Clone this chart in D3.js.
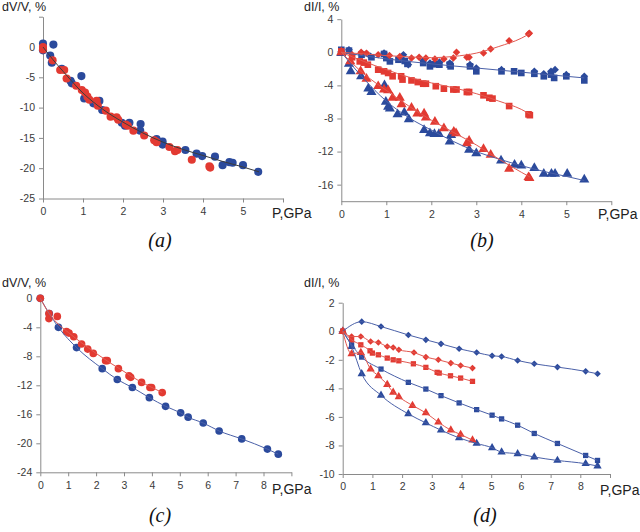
<!DOCTYPE html>
<html>
<head>
<meta charset="utf-8">
<script src="https://cdn.jsdelivr.net/npm/d3@7"></script>
<style>
  body { margin: 0; background: #fff; }
  svg { display: block; font-family: Arial, "Liberation Sans", sans-serif; }
</style>
</head>
<body>
<svg id="chart" width="640" height="532"></svg>
<script>
// ---- data: [P (GPa), value (%)] ----
const aBlue = [[0, 0.55], [0, -0.55], [0.26, 0.4], [0.18, -1.4], [0.22, -2.6], [0.47, -3.6], [0.69, -5.6], [0.72, -6.0],
  [0.96, -4.8], [1.03, -8.5], [1.26, -9.3], [1.41, -8.9], [1.48, -10.4], [1.97, -12.5], [2.05, -13.0], [2.16, -12.5],
  [2.43, -13.8], [2.44, -12.7], [2.84, -15.2], [2.99, -15.6], [2.99, -16.1], [3.56, -17.0], [3.84, -17.6], [3.98, -18.0],
  [4.3, -18.1], [4.49, -19.5], [4.66, -19.0], [4.74, -19.1], [5.0, -19.5], [5.38, -20.6]];
const aRed = [[0, 0], [0, -0.4], [0.24, -2.2], [0.43, -3.8], [0.53, -3.8], [0.59, -5.2], [0.83, -6.4], [0.97, -7.1],
  [1.05, -7.5], [1.11, -8.2], [1.16, -8.7], [1.34, -8.9], [1.37, -9.7], [1.57, -10.5], [1.69, -11.5], [1.84, -11.6],
  [1.88, -12.0], [2.07, -12.8], [2.12, -13.0], [2.26, -13.8], [2.53, -14.6], [2.78, -15.4], [2.84, -15.7], [3.16, -16.5],
  [3.3, -17.2], [3.36, -17.0], [3.72, -18.6], [4.16, -19.7], [4.18, -19.9]];
const aFit = [[0, 0], [0.25, -2.1], [0.5, -4.0], [1, -7.6], [1.5, -10.3], [2, -12.4], [2.5, -14.2], [3, -15.7],
  [3.5, -16.9], [4, -17.9], [4.5, -18.9], [5, -19.8], [5.4, -20.6]];

const bRedDiamond = [[0, 0.1], [0.24, -0.3], [0.44, 0], [0.56, -0.1], [0.82, -0.3], [1.07, -0.4], [1.3, -0.5], [1.56, -0.7],
  [1.73, -0.6], [1.88, -0.7], [2.08, -0.8], [2.28, -0.8], [2.49, -0.7], [2.56, 0], [2.79, -0.6], [2.84, -0.6],
  [3.16, -0.1], [3.32, 0.4], [3.73, 1.4], [4.16, 2.2], [4.18, 2.3]];
const bRedSquare = [[0, 0.1], [0.24, -0.6], [0.41, -1.1], [0.5, -1.25], [0.59, -1.5], [0.82, -2.1], [0.95, -2.3], [1.04, -2.5],
  [1.14, -2.9], [1.33, -2.9], [1.36, -3.3], [1.56, -3.4], [1.7, -3.6], [1.82, -3.8], [1.88, -3.8], [2.1, -4.1],
  [2.28, -4.4], [2.49, -4.5], [2.56, -4.5], [2.79, -4.8], [2.84, -4.8], [3.16, -5.2], [3.29, -5.5], [3.36, -5.6],
  [3.73, -6.5], [4.16, -7.5], [4.19, -7.6]];
const bRedTriangle = [[0, 0], [0.2, -1.1], [0.43, -2.3], [0.56, -3.2], [0.82, -4.1], [0.95, -4.5], [1.04, -4.6], [1.14, -5.5],
  [1.3, -5.5], [1.34, -6.3], [1.56, -6.7], [1.69, -7.4], [1.84, -7.4], [1.88, -7.9], [2.08, -8.4], [2.28, -9.2],
  [2.5, -9.6], [2.55, -9.8], [2.79, -11.0], [2.84, -10.7], [3.16, -11.7], [3.32, -12.4], [3.73, -14.1], [4.16, -15.1],
  [4.18, -15.2]];
const bBlueDiamond = [[0, 0.1], [0.17, 0.3], [0.45, -0.1], [0.65, -0.5], [0.95, -0.1], [1.38, -0.3], [1.49, -1.5], [1.82, -1.0],
  [1.97, -1.3], [2.18, -1.2], [2.41, -1.3], [2.86, -1.5], [3.0, -1.9], [3.56, -2.1], [4.29, -2.3], [4.5, -2.6],
  [4.66, -2.3], [4.75, -2.1], [5.0, -2.7], [5.4, -2.9]];
const bBlueSquare = [[0, 0.3], [0.17, 0.2], [0.45, -0.3], [0.67, -0.6], [0.95, -0.2], [1.0, -0.7], [1.08, -1.1], [1.27, -0.9],
  [1.41, -1.05], [1.47, -1.4], [1.82, -1.3], [1.97, -1.7], [2.08, -1.45], [2.18, -1.5], [2.41, -1.5], [2.43, -1.7],
  [2.86, -1.7], [3.0, -2.3], [3.56, -2.3], [3.84, -2.3], [4.0, -2.5], [4.29, -2.6], [4.5, -2.9], [4.66, -2.7],
  [4.73, -3.1], [5.0, -2.9], [5.4, -3.4]];
const bBlueTriangle = [[0, -0.1], [0.17, -1.4], [0.21, -2.3], [0.44, -2.9], [0.6, -4.4], [0.67, -4.8], [0.96, -4.0], [0.99, -6.0],
  [1.04, -6.6], [1.08, -6.8], [1.25, -7.5], [1.4, -7.3], [1.5, -8.1], [1.84, -9.4], [1.97, -9.8], [2.07, -9.9],
  [2.17, -9.9], [2.41, -10.8], [2.44, -10.0], [2.84, -11.8], [3.0, -12.2], [3.55, -13.1], [3.85, -13.6], [4.0, -13.7],
  [4.29, -14.0], [4.5, -14.7], [4.67, -14.7], [4.75, -14.7], [5.02, -14.7], [5.4, -15.4]];
const bRedDiamondFit = [[0, 0], [0.5, -0.2], [1, -0.4], [1.5, -0.55], [2, -0.65], [2.5, -0.5], [3, -0.1], [3.5, 0.7], [4, 1.7], [4.2, 2.3]];
const bRedSquareFit = [[0, 0], [0.5, -1.1], [1, -2.1], [1.5, -3.0], [2, -3.7], [2.5, -4.3], [3, -5.0], [3.5, -5.9], [4, -6.9], [4.2, -7.5]];
const bRedTriangleFit = [[0, 0], [0.5, -2.6], [1, -4.6], [1.5, -6.5], [2, -8.2], [2.5, -9.7], [3, -11.2], [3.5, -12.9], [4, -14.5], [4.2, -15.1]];
const bBlueTopFit = [[0, 0], [1, -0.8], [2, -1.4], [3, -1.9], [4, -2.4], [5, -2.9], [5.4, -3.1]];
const bBlueTriangleFit = [[0, 0], [0.5, -3.2], [1, -5.9], [1.5, -7.9], [2, -9.4], [2.5, -10.8], [3, -12.0], [3.5, -12.9],
  [4, -13.7], [4.5, -14.4], [5, -15.0], [5.4, -15.5]];

const cBlue = [[0, 0], [0.32, -2.1], [0.65, -4.0], [1.3, -6.8], [2.22, -9.7], [2.76, -11.2], [3.3, -12.3], [3.91, -13.7],
  [4.49, -14.9], [5.03, -15.8], [5.3, -16.4], [5.84, -17.2], [6.41, -18.3], [7.22, -19.4], [8.14, -20.8], [8.53, -21.5]];
const cRed = [[0, 0], [0.31, -2.1], [0.31, -2.8], [0.61, -2.5], [0.94, -4.6], [1.03, -4.8], [1.2, -5.3], [1.48, -6.3],
  [1.7, -7.0], [1.9, -7.6], [2.34, -8.6], [2.4, -8.6], [2.8, -9.7], [3.18, -10.7], [3.24, -10.9], [3.63, -11.6],
  [3.93, -12.3], [3.99, -12.3], [4.37, -13.0]];
const cRedFit = [[0, 0], [0.3, -2.0], [0.6, -3.4], [1, -4.7], [1.5, -6.2], [2, -7.6], [2.5, -8.9], [3, -10.1], [3.5, -11.3], [4, -12.3], [4.37, -13.0]];

const dBlueDiamond = [[0, 0], [0.64, 0.67], [1.29, 0.33], [2.21, -0.26], [2.8, -0.6], [3.31, -0.88], [3.92, -1.23], [4.51, -1.49],
  [5.03, -1.72], [5.35, -1.77], [5.89, -2.05], [6.45, -2.28], [7.23, -2.51], [8.18, -2.81], [8.58, -2.98]];
const dBlueSquare = [[0, 0], [0.3, -0.95], [0.64, -1.81], [1.29, -2.65], [2.21, -3.58], [2.8, -4.05], [3.31, -4.51], [3.92, -5.02],
  [4.51, -5.49], [5.03, -5.88], [5.35, -6.14], [5.89, -6.58], [6.45, -7.16], [7.23, -7.86], [8.18, -8.7], [8.58, -9.05]];
const dBlueTriangle = [[0, 0], [0.3, -1.07], [0.64, -2.98], [1.29, -4.49], [2.21, -5.79], [2.8, -6.42], [3.31, -6.93], [3.92, -7.47],
  [4.51, -7.86], [5.03, -8.16], [5.35, -8.47], [5.89, -8.58], [6.45, -8.81], [7.23, -9.05], [8.18, -9.28], [8.58, -9.44]];
const dRedDiamond = [[0, 0], [0.3, -0.37], [0.61, -0.37], [0.94, -0.72], [1.2, -0.79], [1.5, -1.07], [1.7, -1.14], [1.89, -1.3],
  [2.4, -1.49], [2.8, -1.81], [3.22, -2.0], [3.64, -2.23], [3.97, -2.4], [4.37, -2.58]];
const dRedSquare = [[0, 0], [0.3, -0.6], [0.61, -0.95], [0.92, -1.37], [1.0, -1.53], [1.2, -1.65], [1.5, -1.88], [1.7, -2.0],
  [1.89, -2.07], [2.38, -2.28], [2.8, -2.53], [3.18, -2.88], [3.25, -2.93], [3.63, -3.12], [3.97, -3.28], [4.37, -3.51]];
const dRedTriangle = [[0, 0], [0.3, -1.58], [0.61, -1.49], [0.94, -2.65], [1.2, -3.12], [1.5, -3.74], [1.7, -4.28], [1.89, -4.6],
  [2.35, -5.2], [2.8, -5.72], [3.22, -6.37], [3.64, -6.93], [3.97, -7.23], [4.37, -7.63]];

const aYTicks = [0, -5, -10, -15, -20, -25];
const bYTicks = [4, 0, -4, -8, -12, -16];
const cYTicks = [0, -4, -8, -12, -16, -20, -24];
const dYTicks = [2, 0, -2, -4, -6, -8, -10];
const abXTicks = [0, 1, 2, 3, 4, 5];
const cdXTicks = [0, 1, 2, 3, 4, 5, 6, 7, 8];
const panelLetters = ['(a)', '(b)', '(c)', '(d)'];

const BLUE = '#2b4a9c';
const RED = '#e23a32';
const BLUE_LINE = '#4a60a8';
const RED_LINE = '#e25850';

const svg = d3.select('#chart');

const markers = {
  circle: { type: d3.symbolCircle, rotate: 0 },
  square: { type: d3.symbolSquare, rotate: 0 },
  diamond: { type: d3.symbolSquare, rotate: 45 },
  triangle: { type: d3.symbolTriangle, rotate: 0 },
};

function drawPanel(p) {
  const x = d3.scaleLinear().domain(p.xDomain).range(p.xRange);
  const y = d3.scaleLinear().domain(p.yDomain).range(p.yRange);
  const g = svg.append('g');

  const xAxis = d3.axisBottom(x)
    .tickValues(d3.range(0, p.xDomain[1] + 1))
    .tickFormat(d => (p.xTicks.includes(d) ? d : ''))
    .tickSize(4).tickSizeOuter(0).tickPadding(5);
  const yTickVals = Array.from(new Set([p.yDomain[1], ...p.yTicks]));
  const yAxis = d3.axisLeft(y)
    .tickValues(yTickVals)
    .tickFormat(d => (p.yTicks.includes(d) ? d : ''))
    .tickSize(4).tickSizeOuter(0).tickPadding(4);

  g.append('g').attr('transform', `translate(0,${p.yRange[0]})`).call(xAxis);
  g.append('g').attr('transform', `translate(${p.xRange[0]},0)`).call(yAxis);
  g.selectAll('.domain, .tick line').attr('stroke', '#8a8a8a');
  g.selectAll('.tick text').attr('fill', '#3a3a3a').style('font-size', '10.5px');

  // markers
  p.series.forEach((s) => {
    const m = markers[s.marker];
    const sym = d3.symbol().type(m.type).size(s.size);
    g.append('g').selectAll('path')
      .data(s.data)
      .join('path')
      .attr('d', sym)
      .attr('fill', s.color)
      .attr('transform', d => `translate(${x(d[0])},${y(d[1])}) rotate(${m.rotate})`);
  });

  // lines
  const line = d3.line().x(d => x(d[0])).y(d => y(d[1])).curve(d3.curveMonotoneX);
  p.lines.forEach((l) => {
    g.append('path')
      .datum(l.data)
      .attr('fill', 'none')
      .attr('stroke', l.color)
      .attr('stroke-width', l.width || 1)
      .attr('d', line);
  });

  g.append('text').attr('x', p.titlePos[0]).attr('y', p.titlePos[1])
    .style('font-size', '12.5px').attr('fill', '#222').text(p.title);
  g.append('text').attr('x', p.xLabelPos[0]).attr('y', p.xLabelPos[1])
    .style('font-size', '14px').attr('fill', '#222').text('P,GPa');
  g.append('text').attr('x', p.letterPos[0]).attr('y', p.letterPos[1])
    .attr('text-anchor', 'middle')
    .style('font-family', '"Liberation Serif", "Times New Roman", serif')
    .style('font-style', 'italic').style('font-size', '20px').attr('fill', '#111')
    .text(p.letter);
}

drawPanel({
  xDomain: [0, 6], xRange: [43, 283], yDomain: [-25, 5], yRange: [198.5, 16.7],
  xTicks: abXTicks, yTicks: aYTicks,
  title: 'dV/V, %', titlePos: [2, 11], xLabelPos: [272, 218], letter: panelLetters[0], letterPos: [160, 247],
  series: [
    { data: aBlue, marker: 'circle', color: BLUE, size: 52 },
    { data: aRed, marker: 'circle', color: RED, size: 52 },
  ],
  lines: [{ data: aFit, color: '#3c3c3c' }],
});

drawPanel({
  xDomain: [0, 6], xRange: [341.3, 611.3], yDomain: [-18, 4], yRange: [201.2, 19.2],
  xTicks: abXTicks, yTicks: bYTicks,
  title: 'dI/I, %', titlePos: [304, 11], xLabelPos: [598, 219], letter: panelLetters[1], letterPos: [482, 247],
  series: [
    { data: bBlueTriangle, marker: 'triangle', color: BLUE, size: 44 },
    { data: bBlueSquare, marker: 'square', color: BLUE, size: 44 },
    { data: bBlueDiamond, marker: 'diamond', color: BLUE, size: 30 },
    { data: bRedTriangle, marker: 'triangle', color: RED, size: 44 },
    { data: bRedSquare, marker: 'square', color: RED, size: 44 },
    { data: bRedDiamond, marker: 'diamond', color: RED, size: 28 },
  ],
  lines: [
    { data: bBlueTopFit, color: BLUE_LINE },
    { data: bBlueTriangleFit, color: BLUE_LINE },
    { data: bRedDiamondFit, color: RED_LINE },
    { data: bRedSquareFit, color: RED_LINE },
    { data: bRedTriangleFit, color: RED_LINE },
  ],
});

drawPanel({
  xDomain: [0, 9], xRange: [40.3, 291.4], yDomain: [-24, 0], yRange: [472.3, 298.3],
  xTicks: cdXTicks, yTicks: cYTicks,
  title: 'dV/V, %', titlePos: [2, 287], xLabelPos: [272, 494], letter: panelLetters[2], letterPos: [160, 522],
  series: [
    { data: cBlue, marker: 'circle', color: BLUE, size: 46 },
    { data: cRed, marker: 'circle', color: RED, size: 46 },
  ],
  lines: [
    { data: cBlue, color: BLUE_LINE },
    { data: cRedFit, color: RED_LINE },
  ],
});

drawPanel({
  xDomain: [0, 9], xRange: [342.7, 610], yDomain: [-10, 2], yRange: [474, 302.7],
  xTicks: cdXTicks, yTicks: dYTicks,
  title: 'dI/I, %', titlePos: [304, 287], xLabelPos: [600, 495], letter: panelLetters[3], letterPos: [485, 522],
  series: [
    { data: dBlueDiamond, marker: 'diamond', color: BLUE, size: 22 },
    { data: dBlueSquare, marker: 'square', color: BLUE, size: 28 },
    { data: dBlueTriangle, marker: 'triangle', color: BLUE, size: 30 },
    { data: dRedDiamond, marker: 'diamond', color: RED, size: 22 },
    { data: dRedSquare, marker: 'square', color: RED, size: 28 },
    { data: dRedTriangle, marker: 'triangle', color: RED, size: 30 },
  ],
  lines: [
    { data: dBlueDiamond, color: BLUE_LINE },
    { data: dBlueSquare, color: BLUE_LINE },
    { data: dBlueTriangle, color: BLUE_LINE },
    { data: dRedDiamond, color: RED_LINE },
    { data: dRedSquare, color: RED_LINE },
    { data: dRedTriangle, color: RED_LINE },
  ],
});
</script>
</body>
</html>
